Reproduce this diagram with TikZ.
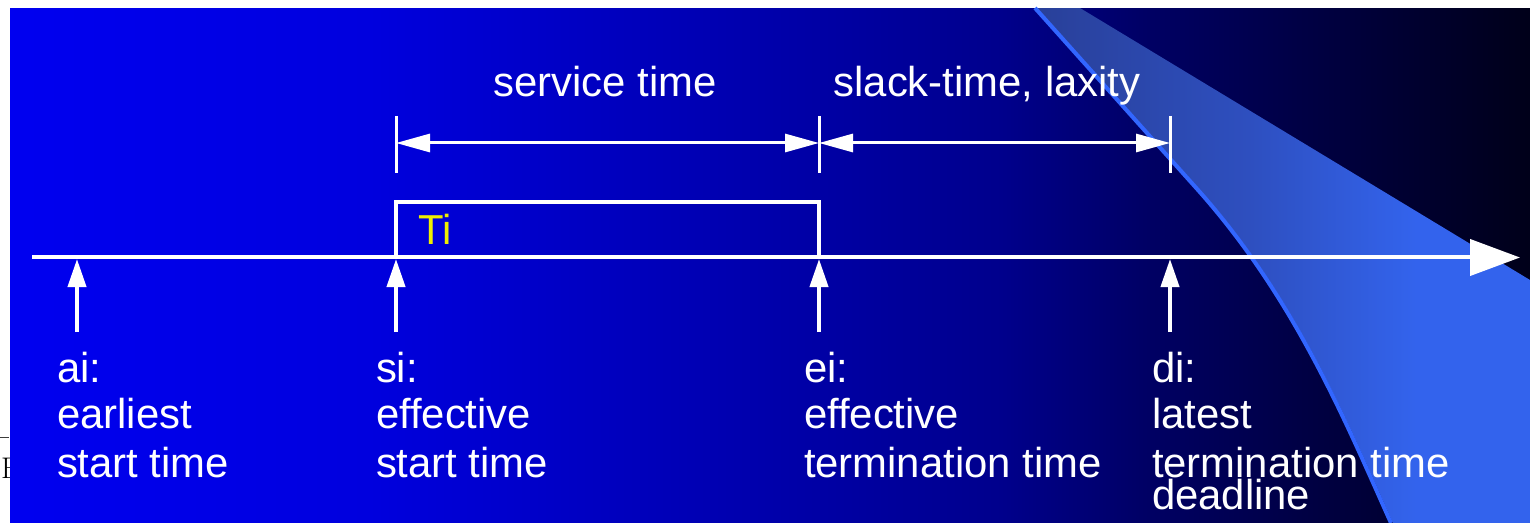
\documentclass[tikz,border=0pt]{standalone}
\usepackage{fontspec}
\newfontfamily\arial{Liberation Sans}
\usetikzlibrary{arrows.meta}
\definecolor{edgeblue}{RGB}{50,102,255}
\definecolor{tiyellow}{RGB}{238,238,0}
\definecolor{artgray}{RGB}{60,60,60}
\pgfdeclarehorizontalshading{bgshade}{515bp}{rgb(0bp)=(0,0,0.94); rgb(361bp)=(0,0,0.87); rgb(841bp)=(0,0,0.63); rgb(991bp)=(0,0,0.55); rgb(1141bp)=(0,0,0.39); rgb(1291bp)=(0,0,0.27); rgb(1521bp)=(0,0,0.1)}
\pgfdeclarehorizontalshading{swshade}{515bp}{rgb(0bp)=(0.16,0.25,0.6); rgb(213bp)=(0.18,0.31,0.75); rgb(380bp)=(0.2,0.39,0.93); rgb(493bp)=(0.2,0.39,0.93)}
\tikzset{
  lbl/.style={text=white, font=\arial\fontsize{42}{48}\selectfont, inner sep=0pt, outer sep=0pt, anchor=base west},
  toplbl/.style={text=white, font=\arial\fontsize{42}{48}\selectfont, inner sep=0pt, outer sep=0pt, anchor=base},
  wline/.style={draw=white, line width=4bp},
  tickline/.style={draw=white, line width=3bp},
  uparrow/.style={draw=white, line width=4bp, -{Triangle[length=28bp,width=18bp]}},
  dimarrow/.style={draw=white, line width=3bp, {Triangle[length=34bp,width=18bp]}-{Triangle[length=34bp,width=18bp]}},
  mainarrow/.style={draw=white, line width=4bp, -{Triangle[length=50bp,width=36bp]}},
}
\begin{document}
\begin{tikzpicture}[x=1bp,y=-1bp]
\useasboundingbox (0,0) rectangle (1530,523);
% artifacts in the left margin
\node[anchor=base west, inner sep=0pt, font=\fontsize{30}{36}\selectfont] (artE) at (1,478) {E};
\draw[artgray, line width=1bp] (0,437) -- (9,437);
% background
\node[inner sep=0pt, outer sep=0pt, anchor=north west] (bg) at (9,8) {\pgfuseshading{bgshade}};
% swoosh
\begin{scope}
  \clip (1037,8) -- (1200,190) .. controls (1298,300) and (1348,423) .. (1393,523) -- (1530,523) -- (1530,280) -- (1080,8) -- cycle;
  \node[inner sep=0pt, outer sep=0pt, anchor=north west] (sw) at (1037,8) {\pgfuseshading{swshade}};
\end{scope}
\draw[edgeblue, line width=4bp] (1035,8) -- (1198,190) .. controls (1296,300) and (1346,423) .. (1391,523);
% timeline
\coordinate (tl0) at (32,257.5);
\coordinate (tl1) at (1520,257.5);
\draw[mainarrow] (tl0) -- (tl1);
% Ti box
\coordinate (b1) at (396,257.5);
\coordinate (b2) at (396,202);
\coordinate (b3) at (819,202);
\coordinate (b4) at (819,257.5);
\draw[wline] (b1) -- (b2) -- (b3) -- (b4);
\node[text=tiyellow, font=\arial\fontsize{42}{48}\selectfont, inner sep=0pt, anchor=base west] (Ti) at (418,245) {Ti};
% time points on the axis
\coordinate (pa) at (77,259);
\coordinate (ps) at (396,259);
\coordinate (pe) at (819,259);
\coordinate (pd) at (1170,259);
\coordinate (fa) at (77,332);
\coordinate (fs) at (396,332);
\coordinate (fe) at (819,332);
\coordinate (fd) at (1170,332);
\draw[uparrow] (fa) -- (pa);
\draw[uparrow] (fs) -- (ps);
\draw[uparrow] (fe) -- (pe);
\draw[uparrow] (fd) -- (pd);
% dimension ticks
\coordinate (ks1) at (396,116); \coordinate (ks2) at (396,173);
\coordinate (ke1) at (819,116); \coordinate (ke2) at (819,173);
\coordinate (kd1) at (1170,116); \coordinate (kd2) at (1170,173);
\draw[tickline] (ks1) -- (ks2);
\draw[tickline] (ke1) -- (ke2);
\draw[tickline] (kd1) -- (kd2);
\coordinate (ds) at (396,143);
\coordinate (de) at (819,143);
\coordinate (dd) at (1170,143);
\draw[dimarrow] (ds) -- (de);
\draw[dimarrow] (de) -- (dd);
\node[toplbl] (service) at (605,97) {service time};
\node[toplbl] (slack) at (987,97) {slack-time, laxity};
% labels
\node[lbl] (a1) at (57,382) {ai:};
\node[lbl] (a2) at (57,428) {earliest};
\node[lbl] (a3) at (57,477) {start time};
\node[lbl] (s1) at (376,382) {si:};
\node[lbl] (s2) at (376,428) {effective};
\node[lbl] (s3) at (376,477) {start time};
\node[lbl] (e1) at (804,382) {ei:};
\node[lbl] (e2) at (804,428) {effective};
\node[lbl] (e3) at (804,477) {termination time};
\node[lbl] (d1) at (1152,382) {di:};
\node[lbl] (d2) at (1152,428) {latest};
\node[lbl] (d3) at (1152,477) {termination time};
\node[lbl] (d4) at (1152,509) {deadline};
\end{tikzpicture}
\end{document}
